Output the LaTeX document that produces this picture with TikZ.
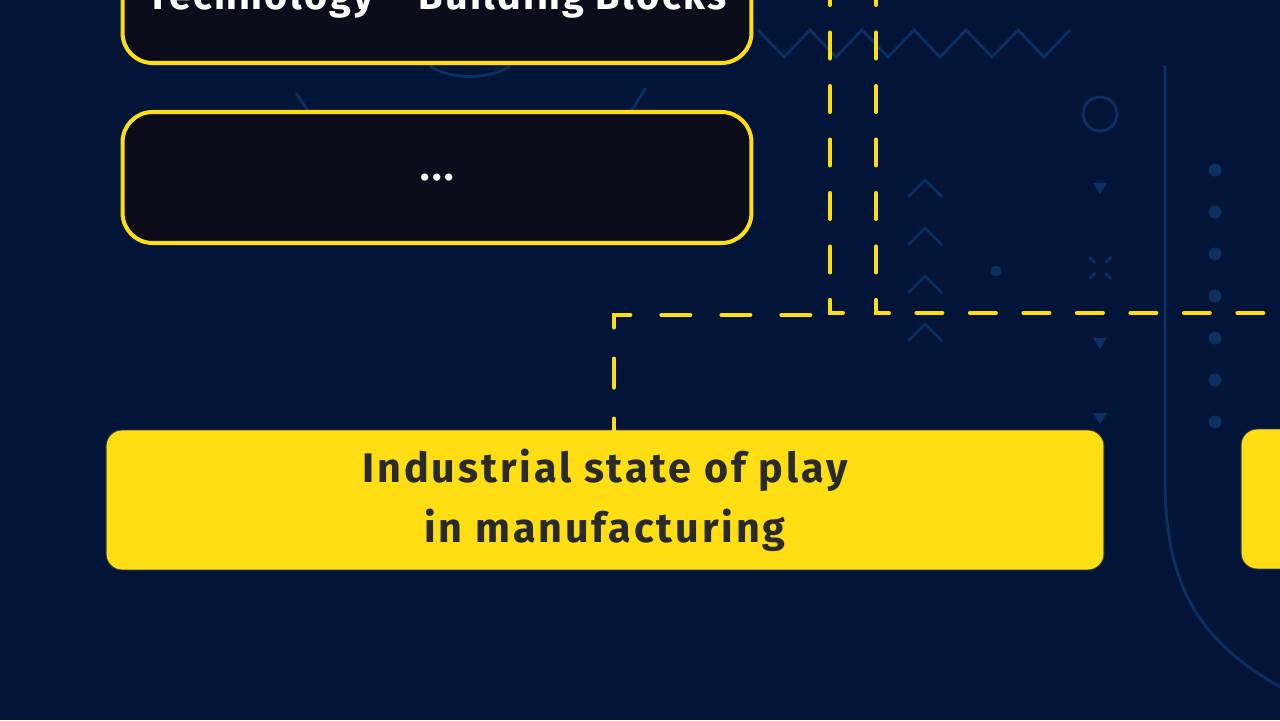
\documentclass[tikz,border=0pt]{standalone}
\usepackage{fontspec}
\setmainfont{Fira Sans}
\usetikzlibrary{positioning, calc}
\definecolor{navybg}{RGB}{1, 21, 56}
\definecolor{decoblue}{RGB}{13, 48, 98}
\definecolor{boxdark}{RGB}{12, 12, 26}
\definecolor{boxyellow}{RGB}{255, 222, 20}
\definecolor{inkgray}{RGB}{42, 42, 42}

\begin{document}
\begin{tikzpicture}[x=0.02cm, y=-0.02cm,
  darkbox/.style={draw=boxyellow, line width=2.3pt, fill=boxdark, rounded corners=0.6cm, minimum width=12.58cm, minimum height=2.62cm, text=white, font=\bfseries\fontsize{22.5}{30}\selectfont\addfontfeature{LetterSpace=6}},
  yellowbox/.style={draw=black!75, line width=0.5pt, fill=boxyellow, rounded corners=0.32cm, minimum width=19.96cm, minimum height=2.8cm, text=inkgray, align=center, font=\bfseries\fontsize{23.5}{34}\selectfont\addfontfeature{LetterSpace=7}},
  link/.style={draw=boxyellow, line width=2.3pt, line cap=round, dash pattern=on 0.52cm off 0.55cm},
  deco/.style={draw=decoblue, line width=1.6pt}]

  % Canvas
  \fill[navybg] (0,0) rectangle (1280,720);
  \useasboundingbox (0,0) rectangle (1280,720);
  \clip (0,0) rectangle (1280,720);

  % Background ornaments
  \draw[deco] (758,30) \foreach \k in {0,...,5} { -- ++(26,27) -- ++(26,-27) };
  \draw[deco] (1100,114) circle (0.34cm);
  \draw[deco] (1165,65) -- (1165,480) .. controls (1165,600) and (1210,650) .. (1295,695);
  \foreach \y in {170,212,...,425} \fill[decoblue] (1215,\y) circle (0.13cm);
  \foreach \y in {197,245,293,341} \draw[deco] (908,\y) -- (925,{\y-17}) -- (942,\y);
  \foreach \y in {188,343,418} \fill[decoblue] (1093,{\y-5}) -- (1107,{\y-5}) -- (1100,{\y+6}) -- cycle;
  \draw[deco] (1089,257) -- (1095,263) (1105,263) -- (1111,257) (1089,279) -- (1095,273) (1105,273) -- (1111,279);
  \fill[decoblue] (996,271) circle (0.11cm);
  \draw[deco] (430,66) .. controls (450,80) and (490,80) .. (510,66);
  \draw[deco] (296,93) -- (310,114);
  \draw[deco] (646,88) -- (632,110);

  % Boxes
  \node[darkbox] (blocks) at (437,-2.5) {Technology -- Building Blocks};
  \node[darkbox] (more) at (437,177.5) {...};
  \node[yellowbox] (state) at (605,500) {Industrial state of play\\in manufacturing};
  \node[yellowbox] (nextstate) at (1740,499) {};

  % Dashed feeds
  \coordinate (drop) at (614,315);
  \coordinate (dropend) at (813,315);
  \coordinate (feedleft) at (830,-21);
  \coordinate (feedleftend) at (843,313);
  \coordinate (feedright) at (876,-21);
  \coordinate (feedrightend) at (1300,313);
  \draw[link, dash pattern=on 0.58cm off 0.62cm, dash phase=0.36cm] (state.north -| drop) |- (dropend);
  \draw[link] (feedleft) |- (feedleftend);
  \draw[link] (feedright) |- (feedrightend);
\end{tikzpicture}
\end{document}
